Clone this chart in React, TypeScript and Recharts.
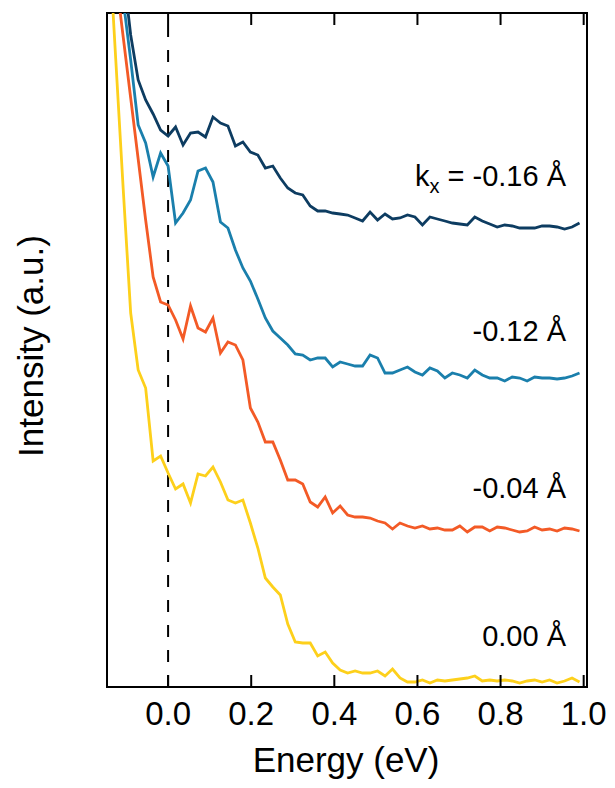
import { Customized, Line, LineChart, ReferenceArea, ReferenceLine, XAxis, YAxis } from "recharts";

// energy grid (eV), one sample per point of the measured curves
const energy = [
  -0.144, -0.126, -0.108, -0.09, -0.072, -0.054, -0.036, -0.018, 0.0, 0.018, 0.036, 0.054, 0.072,
  0.09, 0.108, 0.126, 0.144, 0.162, 0.18, 0.198, 0.216, 0.234, 0.252, 0.27, 0.288, 0.306, 0.324,
  0.342, 0.36, 0.378, 0.396, 0.414, 0.432, 0.45, 0.468, 0.486, 0.504, 0.522, 0.54, 0.558, 0.576,
  0.594, 0.612, 0.63, 0.648, 0.666, 0.684, 0.702, 0.72, 0.738, 0.756, 0.774, 0.792, 0.81, 0.828,
  0.846, 0.864, 0.882, 0.9, 0.918, 0.936, 0.954, 0.972, 0.99,
];

// intensity (a.u., stacked with offsets)
const kxM016 = [
  85.7, 78.7, 71.7, 65.2, 60.7, 58.7, 57.3, 55.7, 55.1, 56.0, 54.2, 55.4, 55.5, 55.0, 57.0, 56.4,
  56.1, 54.1, 54.5, 53.5, 53.2, 51.9, 52.1, 50.9, 49.9, 49.4, 49.2, 48.1, 47.6, 47.6, 47.4, 47.3,
  47.2, 46.9, 46.6, 47.5, 46.7, 47.3, 46.8, 46.9, 47.2, 47.0, 46.2, 47.0, 46.8, 46.6, 46.4, 46.3,
  46.2, 47.0, 46.6, 46.3, 46.0, 46.2, 46.1, 45.9, 45.9, 45.9, 46.1, 46.1, 46.0, 45.8, 46.0, 46.4,
];
const kxM012 = [
  80.7, 74.7, 68.7, 62.7, 56.2, 54.4, 51.0, 53.4, 52.1, 46.4, 47.4, 48.7, 51.6, 51.9, 50.5, 46.5,
  45.9, 43.7, 41.9, 40.6, 38.8, 36.9, 35.6, 34.9, 34.2, 33.3, 33.2, 32.7, 32.9, 32.9, 32.0, 32.5,
  32.3, 32.1, 32.1, 33.2, 32.9, 31.4, 31.4, 31.7, 32.0, 31.5, 31.2, 31.9, 31.6, 30.9, 31.4, 31.2,
  30.9, 31.7, 31.2, 30.9, 30.9, 30.6, 31.0, 30.9, 30.6, 31.0, 30.9, 30.9, 30.8, 30.9, 31.1, 31.4,
];
const kxM004 = [
  77.2, 71.1, 65.0, 58.9, 52.8, 46.7, 41.0, 38.5, 38.2, 36.7, 34.8, 38.1, 35.9, 35.5, 36.9, 33.4,
  34.5, 34.2, 32.7, 27.9, 26.5, 24.5, 24.5, 22.7, 20.7, 20.7, 20.3, 18.5, 18.0, 19.0, 17.4, 18.1,
  17.2, 17.0, 17.0, 16.9, 16.6, 16.4, 15.8, 16.4, 16.1, 15.9, 16.1, 15.8, 15.9, 15.7, 15.7, 16.1,
  15.5, 16.0, 16.0, 15.6, 16.0, 15.9, 15.7, 15.5, 15.6, 16.0, 15.7, 15.8, 15.6, 15.9, 15.8, 15.6,
];
const kx000 = [
  75.9, 62.8, 49.8, 37.4, 31.7, 29.9, 22.6, 23.1, 21.4, 19.8, 20.3, 18.4, 21.3, 21.1, 22.0, 20.5,
  18.7, 18.4, 18.7, 16.4, 13.9, 10.9, 10.0, 9.2, 6.3, 4.5, 4.4, 4.4, 3.1, 3.5, 2.4, 1.7,
  1.4, 1.6, 1.4, 1.4, 1.6, 1.1, 1.8, 0.9, 0.5, 0.5, 0.7, 0.4, 0.7, 0.6, 0.7, 0.8,
  0.9, 1.1, 0.6, 0.7, 0.6, 0.7, 0.6, 0.4, 0.6, 0.7, 0.5, 0.7, 0.4, 0.6, 0.9, 0.5,
];

const xTicks = [0, 0.2, 0.4, 0.6, 0.8, 1.0];
const curveLabels = ["-0.16 Å", "-0.12 Å", "-0.04 Å", "0.00 Å"];
const curveColors = ["#0d3c61", "#1a7fac", "#f35a26", "#fdd01b"];

const X_DOMAIN: [number, number] = [-0.147, 1.008];
const Y_DOMAIN: [number, number] = [0, 67.4];

const data = energy.map((e, i) => ({
  e,
  m016: kxM016[i],
  m012: kxM012[i],
  m004: kxM004[i],
  z000: kx000[i],
}));

const FONT = "'Liberation Sans', Arial, Helvetica, sans-serif";
const PLOT_TOP = 13;
const PLOT_BOTTOM = 687;

function EnergyTick(props: any) {
  const { x, payload } = props;
  return (
    <g>
      <line x1={x} x2={x} y1={PLOT_BOTTOM} y2={PLOT_BOTTOM - 12} stroke="#000" strokeWidth={2} />
      <line x1={x} x2={x} y1={PLOT_TOP} y2={PLOT_TOP + 12} stroke="#000" strokeWidth={2} />
      <text x={x} y={725} textAnchor="middle" fontSize={33} fontFamily={FONT} fill="#000">
        {Number(payload.value).toFixed(1)}
      </text>
    </g>
  );
}

function Annotations() {
  const baselines = [186, 341, 498, 646];
  return (
    <g fontFamily={FONT} fill="#000">
      <text
        x={43}
        y={346}
        fontSize={35}
        textAnchor="middle"
        transform="rotate(-90, 43, 346)"
      >
        Intensity (a.u.)
      </text>
      <text x={346} y={772} fontSize={35} textAnchor="middle">
        Energy (eV)
      </text>
      {curveLabels.map((label, i) =>
        i === 0 ? (
          <text key={label} x={566} y={baselines[i]} fontSize={29} textAnchor="end">
            k
            <tspan fontSize={20} dy={7}>
              x
            </tspan>
            <tspan dy={-7}>{` = ${label}`}</tspan>
          </text>
        ) : (
          <text key={label} x={566} y={baselines[i]} fontSize={29} textAnchor="end">
            {label}
          </text>
        ),
      )}
    </g>
  );
}

const axisStroke = { stroke: "#000", strokeWidth: 2, strokeLinecap: "square" as const };

export default function App() {
  return (
    <div style={{ position: "absolute", left: 0, top: 0, width: 615, height: 788, background: "#fff" }}>
      <LineChart width={615} height={788} data={data} margin={{ top: 13, right: 28, bottom: 0, left: 0 }}>
        <XAxis
          dataKey="e"
          type="number"
          domain={X_DOMAIN}
          allowDataOverflow
          ticks={xTicks}
          interval={0}
          height={101}
          tickLine={false}
          axisLine={axisStroke}
          tick={<EnergyTick />}
        />
        <YAxis
          yAxisId="left"
          type="number"
          domain={Y_DOMAIN}
          allowDataOverflow
          width={107}
          tick={false}
          tickLine={false}
          axisLine={axisStroke}
        />
        <ReferenceArea
          yAxisId="left"
          x1={X_DOMAIN[0]}
          x2={X_DOMAIN[1]}
          y1={Y_DOMAIN[0]}
          y2={Y_DOMAIN[1]}
          fill="none"
          fillOpacity={0}
          stroke="#000"
          strokeWidth={2}
        />
        <ReferenceLine
          x={0}
          yAxisId="left"
          stroke="#000"
          strokeWidth={2}
          strokeDasharray="12 13"
        />
        <Line yAxisId="left" type="linear" dataKey="z000" stroke={curveColors[3]} strokeWidth={2.8} dot={false} isAnimationActive={false} />
        <Line yAxisId="left" type="linear" dataKey="m004" stroke={curveColors[2]} strokeWidth={2.8} dot={false} isAnimationActive={false} />
        <Line yAxisId="left" type="linear" dataKey="m012" stroke={curveColors[1]} strokeWidth={2.8} dot={false} isAnimationActive={false} />
        <Line yAxisId="left" type="linear" dataKey="m016" stroke={curveColors[0]} strokeWidth={2.8} dot={false} isAnimationActive={false} />
        <Customized component={Annotations} />
      </LineChart>
    </div>
  );
}
